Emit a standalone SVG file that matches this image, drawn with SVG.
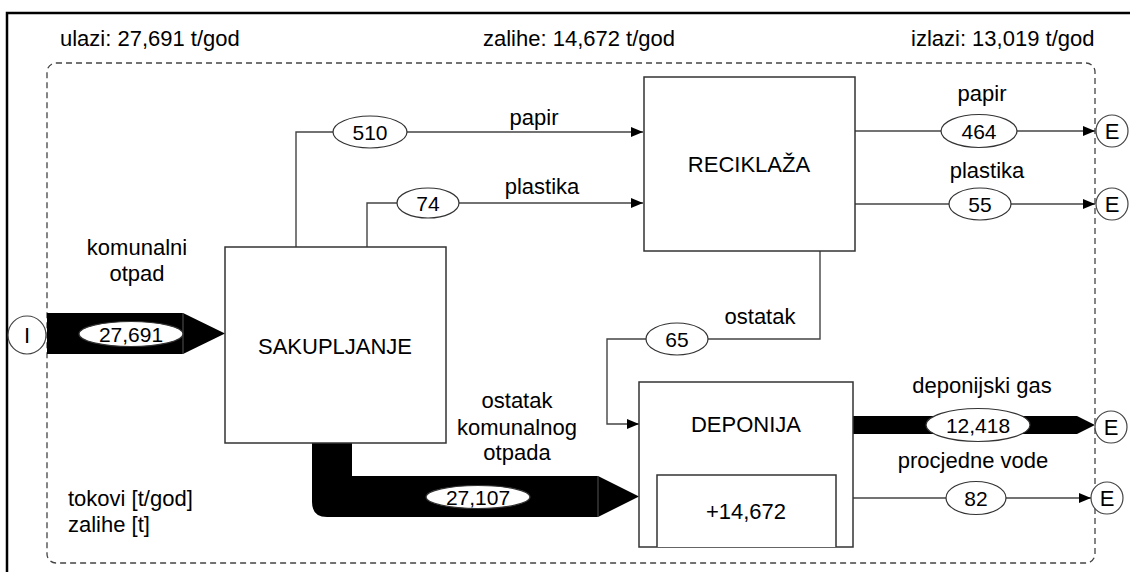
<svg xmlns="http://www.w3.org/2000/svg" width="1130" height="572" viewBox="0 0 1130 572">
<defs>
<marker id="arr" viewBox="0 0 12 10" refX="12" refY="5" markerWidth="12" markerHeight="10" markerUnits="userSpaceOnUse" orient="auto">
<path d="M0,0 L12,5 L0,10 Z" fill="#000"/>
</marker>
</defs>
<style>
text{font-family:"Liberation Sans",Arial,sans-serif;font-size:22px;fill:#000}
.m{text-anchor:middle}
.n{font-size:21px}
.box{fill:#fff;stroke:#333;stroke-width:1.5}
.ln{fill:none;stroke:#444;stroke-width:1.4}
.ell{fill:#fff;stroke:#333;stroke-width:1.2}
.circ{fill:#fff;stroke:#444;stroke-width:1.2}
.band{fill:#000;stroke:none}
</style>
<rect width="1130" height="572" fill="#fff"/>
<path d="M7,572 V13 H1130" fill="none" stroke="#000" stroke-width="2.5"/>
<rect x="47" y="63" width="1048" height="500" rx="9" fill="none" stroke="#444" stroke-width="1.3" stroke-dasharray="6,4"/>
<g id="header">
<text x="60" y="46">ulazi: 27,691 t/god</text>
<text class="m" x="579" y="46">zalihe: 14,672 t/god</text>
<text x="911" y="46">izlazi: 13,019 t/god</text>
</g>
<g id="legend">
<text x="68" y="506">tokovi [t/god]</text>
<text x="68" y="532">zalihe [t]</text>
</g>
<g id="connectors">
<path class="band" d="M47,313 H183 L225,333.5 L183,354 H47 Z"/>
<line x1="183" y1="313" x2="183" y2="354" stroke="#555" stroke-width="1"/>
<path class="ln" d="M296,247 V132 H643" marker-end="url(#arr)"/>
<path class="ln" d="M367,247 V203 H643" marker-end="url(#arr)"/>
<path class="ln" d="M855,131 H1095" marker-end="url(#arr)"/>
<path class="ln" d="M855,204 H1095" marker-end="url(#arr)"/>
<path class="ln" d="M820,251 V339 H607 V424 H639" marker-end="url(#arr)"/>
<path class="band" d="M312,443 H352 V476 H598 L639,496.5 L598,517 H327 Q312,517 312,502 Z"/>
<line x1="598" y1="476" x2="598" y2="517" stroke="#555" stroke-width="1"/>
<path class="band" d="M853,416 H1077 L1095,425 L1077,434 H853 Z"/>
<path class="ln" d="M853,498 H1091" marker-end="url(#arr)"/>
<ellipse class="ell" cx="131" cy="334" rx="52" ry="12.5"/>
<text class="m n" x="131" y="342">27,691</text>
<ellipse class="ell" cx="370" cy="132" rx="37" ry="16"/>
<text class="m n" x="370" y="140">510</text>
<ellipse class="ell" cx="428" cy="203" rx="31" ry="15"/>
<text class="m n" x="428" y="211">74</text>
<ellipse class="ell" cx="979" cy="131" rx="38" ry="16.5"/>
<text class="m n" x="979" y="139">464</text>
<ellipse class="ell" cx="980" cy="204" rx="31" ry="16"/>
<text class="m n" x="980" y="212">55</text>
<ellipse class="ell" cx="677" cy="339" rx="31" ry="16"/>
<text class="m n" x="677" y="347">65</text>
<ellipse class="ell" cx="478" cy="497" rx="52" ry="11.5"/>
<text class="m n" x="478" y="505">27,107</text>
<ellipse class="ell" cx="978" cy="425" rx="52" ry="16.5"/>
<text class="m n" x="978" y="433">12,418</text>
<ellipse class="ell" cx="976" cy="498" rx="30" ry="16.5"/>
<text class="m n" x="976" y="506">82</text>
<text class="m" x="137" y="255">komunalni</text>
<text class="m" x="137" y="281">otpad</text>
<text class="m" x="534" y="125">papir</text>
<text class="m" x="542" y="194">plastika</text>
<text class="m" x="982" y="101">papir</text>
<text class="m" x="987" y="178">plastika</text>
<text class="m" x="760" y="324">ostatak</text>
<text class="m" x="517" y="408">ostatak</text>
<text class="m" x="517" y="435">komunalnog</text>
<text class="m" x="517" y="460">otpada</text>
<text class="m" x="982" y="393">deponijski gas</text>
<text class="m" x="973" y="468">procjedne vode</text>
</g>
<g id="input-I">
<circle class="circ" cx="27" cy="335" r="19"/>
<text class="m" x="27" y="343">I</text>
</g>
<g id="sakupljanje">
<rect class="box" x="225" y="247" width="221" height="196"/>
<text class="m" x="335" y="354">SAKUPLJANJE</text>
</g>
<g id="reciklaza">
<rect class="box" x="644" y="77" width="211" height="174"/>
<text class="m" x="749" y="172">RECIKLAŽA</text>
</g>
<g id="deponija">
<rect class="box" x="639" y="382" width="214" height="165"/>
<text class="m" x="746" y="432">DEPONIJA</text>
<path class="box" d="M657,547 V475 H836 V547"/>
<text class="m" x="746" y="519">+14,672</text>
</g>
<g id="E-papir"><circle class="circ" cx="1112" cy="131" r="16"/><text class="m" x="1112" y="139">E</text></g>
<g id="E-plastika"><circle class="circ" cx="1112" cy="204" r="16"/><text class="m" x="1112" y="212">E</text></g>
<g id="E-gas"><circle class="circ" cx="1111" cy="427" r="16"/><text class="m" x="1111" y="435">E</text></g>
<g id="E-vode"><circle class="circ" cx="1107" cy="498" r="16"/><text class="m" x="1107" y="506">E</text></g>
</svg>
